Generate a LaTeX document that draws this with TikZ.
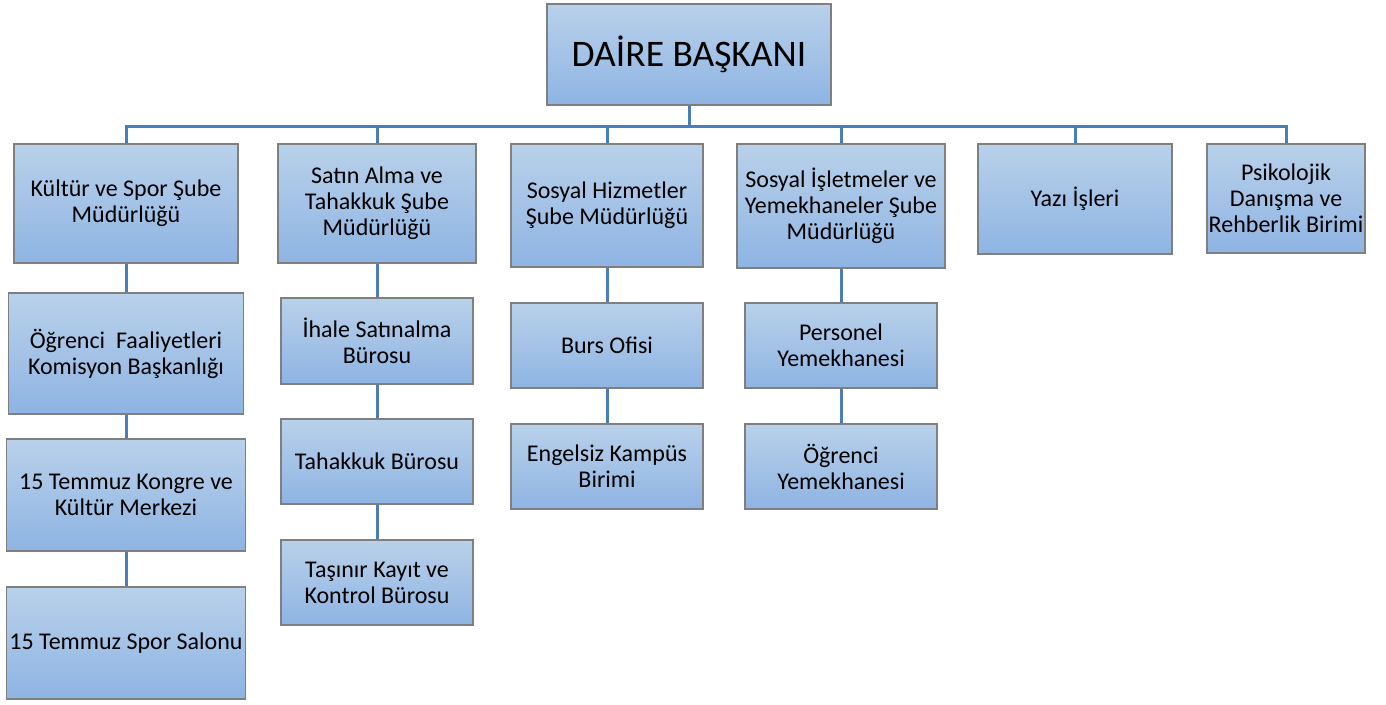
\documentclass[tikz,border=0pt]{standalone}
\usepackage{fontspec}
\setmainfont{Carlito}
\definecolor{boxtop}{HTML}{B9D1EA}
\definecolor{boxbottom}{HTML}{8EB4E3}
\definecolor{boxline}{HTML}{7F7F7F}
\definecolor{conn}{HTML}{4A7EBB}
\begin{document}
\begin{tikzpicture}[x=1pt,y=-1pt,
  every node/.style = {shape=rectangle, draw=boxline, line width=1.2pt, align=center, inner sep=0pt,
    top color=boxtop, bottom color=boxbottom, font=\fontsize{24}{26}\selectfont},
  size/.style 2 args = {minimum width=#1pt, minimum height=#2pt},
  link/.style = {draw=conn, line width=3pt}]

  \useasboundingbox (0,0) rectangle (1386,704);

  % top
  \node[size={284}{101}, font=\fontsize{37.5}{42}\selectfont] (daire) at (689,54.5) {DAİRE BAŞKANI};
  \coordinate (bus) at (689,126);

  % first level
  \node[size={224}{119}] (kultur)  at (126,203.5) {Kültür ve Spor Şube \\ Müdürlüğü};
  \node[size={198}{119}] (satin)   at (377,203.5) {Satın Alma ve \\ Tahakkuk Şube \\ Müdürlüğü};
  \node[size={192}{123}] (hizmet)  at (607,205.5) {Sosyal Hizmetler \\ Şube Müdürlüğü};
  \node[size={208}{124}] (isletme) at (841,206)   {Sosyal İşletmeler ve \\ Yemekhaneler Şube \\ Müdürlüğü};
  \node[size={194}{110}] (yazi)    at (1075,199)  {Yazı İşleri};
  \node[size={158}{109}] (psiko)   at (1286,198.5) {Psikolojik \\ Danışma ve \\ Rehberlik Birimi};

  % second level
  \node[size={235}{121}] (faaliyet) at (126,353.5) {Öğrenci~ Faaliyetleri \\ Komisyon Başkanlığı};
  \node[size={239}{112}] (kongre)   at (126,495)   {15 Temmuz Kongre ve \\ Kültür Merkezi};
  \node[size={239}{112}] (salon)    at (126,643)   {15 Temmuz Spor Salonu};
  \node[size={192}{86}]  (ihale)    at (377,341)     {İhale Satınalma \\ Bürosu};
  \node[size={192}{85}]  (tahakkuk) at (377,461.5)   {Tahakkuk Bürosu};
  \node[size={192}{85}]  (tasinir)  at (377,582.5)   {Taşınır Kayıt ve \\ Kontrol Bürosu};
  \node[size={192}{85}]  (burs)     at (607,345.5)   {Burs Ofisi};
  \node[size={192}{85}]  (engelsiz) at (607,466.5)   {Engelsiz Kampüs \\ Birimi};
  \node[size={192}{85}]  (personel) at (841,345.5)   {Personel \\ Yemekhanesi};
  \node[size={192}{85}]  (yemek)    at (841,466.5)   {Öğrenci \\ Yemekhanesi};

  % connectors
  \draw[link] (daire) -- (bus);
  \draw[link] (bus) -| (kultur);
  \draw[link] (bus) -| (satin);
  \draw[link] (bus) -| (hizmet);
  \draw[link] (bus) -| (isletme);
  \draw[link] (bus) -| (yazi);
  \draw[link] (bus) -| (psiko);
  \draw[link] (kultur) -- (faaliyet);
  \draw[link] (faaliyet) -- (kongre);
  \draw[link] (kongre) -- (salon);
  \draw[link] (satin) -- (ihale);
  \draw[link] (ihale) -- (tahakkuk);
  \draw[link] (tahakkuk) -- (tasinir);
  \draw[link] (hizmet) -- (burs);
  \draw[link] (burs) -- (engelsiz);
  \draw[link] (isletme) -- (personel);
  \draw[link] (personel) -- (yemek);
\end{tikzpicture}
\end{document}
